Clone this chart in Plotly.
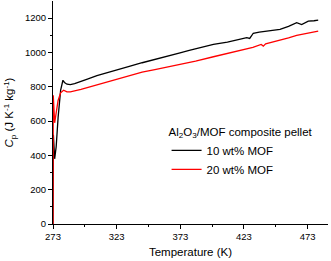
import plotly.graph_objects as go

temp_10 = [273.0, 273.3, 274.3, 275.5, 277.0, 279.0, 280.8, 282.0, 284.0, 286.6, 290, 295, 300, 307.5, 315, 323,
           333.6, 343, 353, 363, 372.8, 380, 390, 399, 410, 418, 425.2, 427.5, 430.3, 435, 443, 451.3,
           458, 464.4, 468.3, 473.5, 478, 481.3]
cp_10 = [0, 520, 380, 450, 620, 780, 838, 825, 815, 813, 818, 830, 845, 865, 880, 895,
         920, 940, 958, 978, 998, 1012, 1030, 1047, 1060, 1072, 1086, 1082, 1112, 1118, 1126, 1135,
         1152, 1174, 1163, 1183, 1185, 1189]

temp_20 = [273.0, 273.2, 274.3, 275.5, 277.0, 279.0, 281.3, 284.0, 286.6, 295, 305, 315, 323, 333.6,
           343, 353, 363, 372.8, 385, 399, 410, 420, 430, 436.5, 438.2, 440, 450, 458, 464.4, 472, 481.3]
cp_20 = [0, 750, 590, 640, 720, 765, 780, 770, 770, 785, 805, 828, 845, 865,
         885, 900, 915, 930, 950, 975, 995, 1012, 1030, 1047, 1037, 1050, 1068, 1085, 1099, 1110, 1125]

x_ticks = [273, 323, 373, 423, 473]
y_ticks = [0, 200, 400, 600, 800, 1000, 1200]

fig = go.Figure()
fig.add_trace(go.Scatter(x=temp_10, y=cp_10, mode="lines", name="10 wt% MOF",
                         line=dict(color="black", width=1.3)))
fig.add_trace(go.Scatter(x=temp_20, y=cp_20, mode="lines", name="20 wt% MOF",
                         line=dict(color="#ff0000", width=1.3)))

fig.update_layout(
    width=331, height=261,
    margin=dict(l=53, r=3, t=1, b=37),
    paper_bgcolor="white", plot_bgcolor="white",
    font=dict(family="Liberation Sans, Arial", size=11, color="black"),
    legend=dict(
        x=0.413, y=0.462, xanchor="left", yanchor="top",
        bgcolor="rgba(0,0,0,0)",
        title=dict(text="Al<sub>2</sub>O<sub>3</sub>/MOF composite pellet", font=dict(size=11.5)),
        itemwidth=30, tracegroupgap=0,
        font=dict(size=11.5),
    ),
    xaxis=dict(
        range=[273, 489], tickvals=x_ticks, showline=True, linecolor="black", linewidth=1,
        ticks="outside", ticklen=4, tickcolor="black", showgrid=False, zeroline=False,
        tickfont=dict(size=9.5), automargin=False,
        minor=dict(tickvals=[298, 348, 398, 448], ticks="outside", ticklen=2, tickcolor="black"),
        title=dict(text="Temperature (K)", font=dict(size=11.5), standoff=6),
    ),
    yaxis=dict(
        range=[0, 1300], tickvals=y_ticks, showline=True, linecolor="black", linewidth=1,
        ticks="outside", ticklen=4, tickcolor="black", showgrid=False, zeroline=False,
        tickfont=dict(size=9.5), automargin=False,
        minor=dict(tickvals=[100, 300, 500, 700, 900, 1100], ticks="outside", ticklen=2, tickcolor="black"),
        title=dict(text="<i>C</i><sub>p</sub> (J K<sup>-1</sup> kg<sup>-1</sup>)", font=dict(size=11.5), standoff=8),
    ),
)

fig.write_html("out.html", config={"displayModeBar": False},
               post_script="document.body.style.margin='0';document.body.style.overflow='hidden';")
